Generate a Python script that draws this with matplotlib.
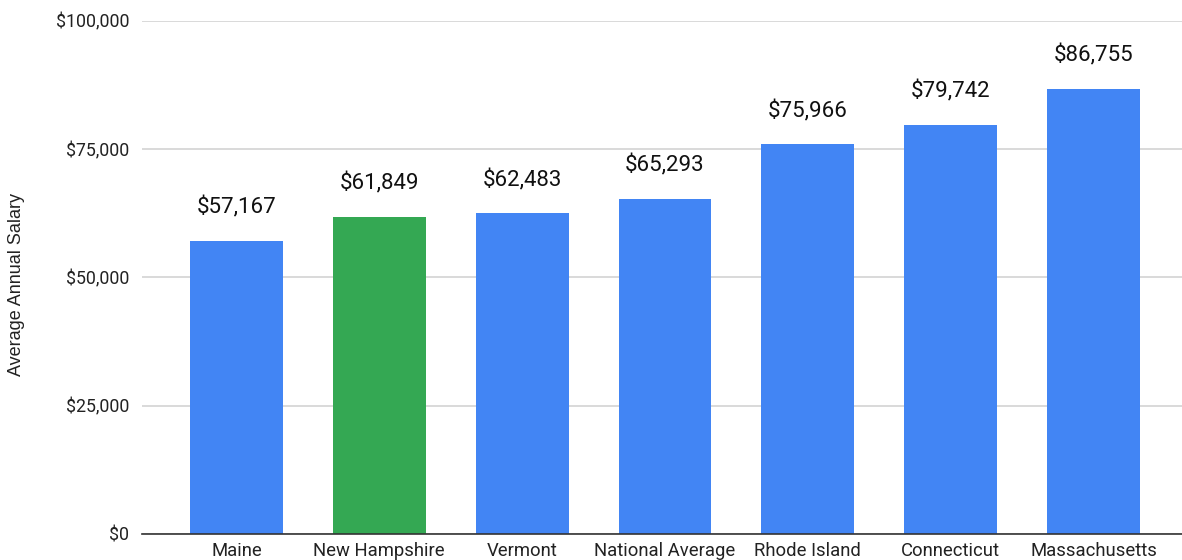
import matplotlib
matplotlib.use("Agg")
import matplotlib.pyplot as plt
from matplotlib.ticker import FuncFormatter

categories = ["Maine", "New Hampshire", "Vermont", "National Average",
              "Rhode Island", "Connecticut", "Massachusetts"]
salaries = [57167, 61849, 62483, 65293, 75966, 79742, 86755]
highlight = "New Hampshire"
yticks = [0, 25000, 50000, 75000, 100000]

plt.rcParams['font.family'] = ['Roboto', 'DejaVu Sans']

fig = plt.figure(figsize=(11.82, 5.6), dpi=100)
ax = fig.add_axes([142/1182, 1 - 534/560, 1 - 142/1182, (534 - 20.7)/560])

colors = ["#34A853" if c == highlight else "#4285F4" for c in categories]
x = list(range(len(categories)))
bars = ax.bar(x, salaries, width=0.65, color=colors, zorder=3)

for xi, v in zip(x, salaries):
    ax.annotate(f"${v:,}", (xi, v), xytext=(0, 19.5), textcoords="offset points",
                ha="center", va="baseline", fontsize=16, color="#111111")

ax.set_xlim(-0.661, 6.619)
ax.set_ylim(0, 100000)
ax.set_yticks(yticks)
ax.yaxis.set_major_formatter(FuncFormatter(lambda v, p: f"${int(v):,}"))
ax.set_xticks(x)
ax.set_xticklabels(categories)
ax.tick_params(axis="y", length=0, pad=9, labelsize=12.8, labelcolor="#222222")
ax.tick_params(axis="x", length=0, pad=6, labelsize=13.3, labelcolor="#222222")
ax.grid(axis="y", color="#d3d3d3", linewidth=1.2, zorder=0)
for s in ["top", "right", "left"]:
    ax.spines[s].set_visible(False)
ax.spines["bottom"].set_color("#333333")
ax.spines["bottom"].set_linewidth(1.2)
ax.spines["bottom"].set_zorder(4)

fig.text(17/1182, 1 - 285/560, "Average Annual Salary", rotation=90,
         ha="center", va="center", fontsize=13, color="#222222",
         family=['Liberation Sans', 'DejaVu Sans'])

fig.savefig("out.png", dpi=100)
